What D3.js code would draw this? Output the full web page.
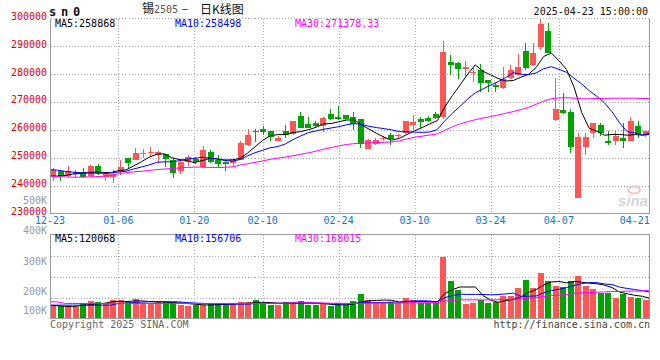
<!DOCTYPE html>
<html><head><meta charset="utf-8">
<script src="https://cdn.jsdelivr.net/npm/d3@7"></script>
<style>body{margin:0;background:#fff}</style>
</head><body>
<script>
// ---------- DATA ----------
const dates = ["12-23","12-24","12-25","12-26","12-27","12-30","12-31","01-02","01-03","01-06","01-07","01-08","01-09","01-10","01-13","01-14","01-15","01-16","01-17","01-20","01-21","01-22","01-23","01-24","01-27","02-05","02-06","02-07","02-10","02-11","02-12","02-13","02-14","02-17","02-18","02-19","02-20","02-21","02-24","02-25","02-26","02-27","02-28","03-03","03-04","03-05","03-06","03-07","03-10","03-11","03-12","03-13","03-14","03-17","03-18","03-19","03-20","03-21","03-24","03-25","03-26","03-27","03-28","03-31","04-01","04-02","04-03","04-07","04-08","04-09","04-10","04-11","04-14","04-15","04-16","04-17","04-18","04-21","04-22","04-23"];
const open = [243600,245400,243600,244200,244900,243600,247200,243400,243100,245200,250200,249200,251600,251900,251000,251400,249200,245500,248500,249600,247000,252400,249400,248500,248400,249400,254700,259900,260500,259800,256300,259600,258600,265200,262300,262500,261600,265900,264700,265500,264700,263900,253300,255000,256900,258300,258200,258900,262000,264000,264500,265800,264800,284600,284300,282000,280500,281600,278000,276200,275000,278600,280000,288400,283400,290000,295600,263600,267200,266400,235700,254100,258900,261900,256100,256100,257100,256300,261500,258300];
const high = [246400,245400,247200,245800,246600,247600,248000,245200,245800,249400,250200,253600,253300,253900,252600,251600,250000,249400,251200,250400,254500,253000,251200,249600,249600,256000,260300,260500,261400,259900,257800,262000,263400,266700,264600,263400,264600,267700,268800,265500,266700,263900,256900,257100,258000,258900,258800,263400,265400,264800,265000,266400,292000,287000,284600,284900,282200,283700,278000,276800,282800,283400,287300,291400,291400,300000,298400,278600,273200,267500,258900,258900,262700,262500,259700,259700,262500,264800,263300,260000];
const low = [241900,241900,243400,243100,242800,243100,244000,241900,241000,244000,246400,249200,250000,250600,248800,247000,243000,244300,247200,247800,246400,248200,246400,245500,247000,249200,254500,255700,258400,256100,256000,257200,258300,260700,260700,261100,259300,263700,263700,263700,260100,253500,253200,254800,256000,254700,257100,258700,260100,260700,262800,264000,264200,280000,278400,279600,277400,273600,273800,273600,274800,278400,279800,281600,283000,288800,287800,263300,265700,251900,235700,251100,257100,258000,254900,254700,253800,256000,257100,257700];
const close = [245800,243600,245400,244900,243100,247200,244800,244600,244200,247000,248400,251800,251900,252300,252400,249600,244800,248500,250400,248800,253000,248800,248000,248000,249400,255300,258300,259600,259300,257700,257400,258200,263400,261000,261000,261700,264300,264100,264100,264100,262300,255100,256500,256500,257300,256900,258400,263400,263100,263100,263400,264400,288200,283400,282000,282800,280800,276800,277100,275400,278300,281600,282800,282200,287600,298100,287800,267800,266300,254100,257700,257700,262500,259200,255300,257900,256300,263500,258500,259800];
const ma5 = [243600,243600,243800,244300,244560,244840,245080,244920,244780,245560,245800,247200,248660,250280,251360,251600,250200,249520,249140,248420,249100,249900,249800,249320,249440,249900,251800,254120,256380,258040,258460,258440,259200,259540,260200,261060,262280,262420,263040,263660,263780,261940,260420,258900,257540,256460,257120,258500,259820,260980,262280,263480,268440,272500,276280,280160,283440,281160,279900,278580,277680,277840,279040,280060,282500,286460,287700,285000,281800,275500,266400,260720,259660,258240,258480,258520,258240,258440,258300,258868];
const ma10 = [245900,245700,245300,245000,244800,244700,244600,244600,244700,245060,245320,246140,246790,247530,248460,248700,248700,249090,249710,249890,250350,250050,249660,249230,248930,249500,250850,251960,252850,253740,254180,255120,256660,257960,259120,259760,260360,260810,261290,261930,262420,262110,261420,260970,260600,260120,259530,259460,259360,259260,259370,260300,263470,266160,268630,271220,273460,274800,276200,277430,278920,280640,280100,279980,280540,282070,282770,281870,280790,278660,276600,274210,272180,269880,266650,262630,259480,259050,258270,258498];
const ma30 = [243400,243400,243300,243200,243200,243300,243400,243500,243800,244400,244800,245100,245300,245600,245900,246100,246300,246500,246700,246800,246800,246700,246700,246700,246900,247500,248000,248500,249000,249600,250000,250400,250900,251400,251900,252500,253200,253800,254400,254900,255200,255400,255500,255600,255700,255800,256200,256900,257500,257900,258300,258700,260000,261300,262300,263100,263800,264400,264900,265500,266100,266700,267400,268200,269300,270500,271300,271600,271700,271500,271300,271300,271400,271400,271500,271500,271500,271500,271400,271378.33];
// volume in thousands (K)
const volumeK = [79.5,73.6,73.6,65.6,89.5,103.5,97.5,89.5,109.5,109.5,97.5,115.4,93.5,89.5,97.5,97.5,97.5,79.5,73.6,79.5,79.5,89.5,89.5,79.5,89.5,97.5,97.5,109.5,89.5,79.5,79.5,97.5,97.5,103.5,79.5,79.5,85.5,73.6,89.5,79.5,103.5,145.3,109.5,99.5,89.5,99.5,89.5,119.4,109.5,89.5,89.5,89.5,368.6,223.1,169.3,85.5,93.5,109.5,93.5,99.5,133.4,133.4,179.2,229.1,183.2,272.9,223.1,193.2,189.2,223.1,253,193.2,175.2,149.3,149.3,119.4,143,130,119.4,109.5];
const vma5K = [78,76,73,70,76.4,81.2,85.9,89.1,97.9,101.9,100.7,104.3,105.1,101.1,98.7,98.7,95.1,92.3,89.1,85.5,81.9,80.3,82.3,83.5,85.5,89.1,90.7,94.7,96.7,94.7,91.1,91.1,88.7,91.5,91.5,91.5,89.1,84.3,81.5,81.5,86.3,98.3,105.5,107.5,109.5,108.7,97.5,99.5,101.5,101.5,99.5,99.5,149.3,172.0,188.0,187.2,188.0,136.2,110.3,96.3,105.9,113.9,127.8,154.9,171.7,199.6,217.5,220.3,212.3,220.3,216.3,210.3,206.7,198.8,184.0,157.3,147.2,138.2,132.2,120.068];
const vma10K = [79.5,79.5,79.5,79.5,79.5,79.5,79.5,79.5,79.5,89.1,90.9,95.1,97.1,99.5,100.3,99.7,99.7,98.7,95.1,92.1,90.3,87.7,87.3,86.3,85.5,85.5,85.5,88.5,90.1,90.1,90.1,90.9,91.7,94.1,93.1,91.3,90.1,86.5,86.5,86.5,88.9,93.7,94.9,94.5,95.5,97.5,97.9,102.5,104.5,105.5,104.1,98.5,124.4,136.8,144.7,143.3,143.7,142.8,141.2,142.2,146.5,150.9,132.0,132.6,134.0,152.7,165.7,174.1,183.6,196.0,207.9,213.9,213.5,205.5,202.2,186.8,178.8,172.5,165.5,156.706];
const vma30K = [99,99,89.5,89.5,89.5,89.5,89.5,89.5,89.5,89.5,89.5,89.5,89.5,89.5,89.5,89.5,89.5,89.5,89.5,89.5,89.5,89.5,89.5,89.5,89.5,89.5,89.5,89.5,89.5,90.4,90.4,91.2,92.0,93.3,93.0,92.2,91.8,91.2,90.6,89.6,89.8,90.8,91.3,91.6,91.4,91.4,91.2,92.5,93.7,94.0,94.4,94.4,103.7,108.5,111.1,110.7,110.6,110.6,110.7,111.4,113.2,114.4,117.1,121.3,124.7,131.2,135.8,139.8,143.1,147.9,152.9,154.4,156.6,158.3,160.3,161.0,162.7,163.1,164.0,168.015];
const priceTicks = [300000,290000,280000,270000,260000,250000,240000,230000];
const volTickLabels = ["500K","400K","300K","200K","100K"];
const volTickValues = [500,400,300,200,100];
const dateTickIdx = [0,9,19,28,38,48,58,67,77];
const dateGridIdx = [9,19,28,38,48,58,67];
const volGridValues = [125,250,375];
const maLabels = ["MA5:258868","MA10:258498","MA30:271378.33"];
const volMaLabels = ["MA5:120068","MA10:156706","MA30:168015"];
const titleCode = "sn0";
const titleName = ["锡","2505","–","日K线图"];
const stamp = "2025-04-23 15:00:00";

// ---------- CHART ----------
const RED = "#ff5555", GREEN = "#00a400", GRID = "#a8a8a8", BORDER = "#9a9a9a";
const MONO = "DejaVu Sans Mono, monospace";
const n = dates.length;
const svg = d3.select("body").append("svg").attr("width",660).attr("height",360)
  .style("font-family", MONO).style("display","block");

const L = 50.5, R = 649.5, T = 18.5, B = 213.5, VT = 234.5, VB = 318.5;
const xBand = d3.scaleBand().domain(d3.range(n)).range([49,649]).paddingInner(0.27).paddingOuter(0.135);
const xLin = d3.scaleLinear().domain([0, n-1]).range([50, 650]);
const y = d3.scaleLinear().domain([230000,300000]).range([214,18.7]);
const yv = d3.scaleLinear().domain([0,500]).range([VB, VT]);
const volLabelY = d3.scaleLinear().domain([100,500]).range([325.5,204]);

const grid = svg.append("g").attr("stroke", GRID).attr("stroke-dasharray","1,2").attr("shape-rendering","crispEdges");
grid.selectAll(".hp").data(priceTicks.filter(v => v > 230000)).join("line")
  .attr("x1", L).attr("x2", R)
  .attr("y1", d => Math.floor(y(d)) + 0.5).attr("y2", d => Math.floor(y(d)) + 0.5);
grid.selectAll(".vp").data(dateGridIdx).join("line")
  .attr("x1", d => Math.round(xLin(d)) + 0.5).attr("x2", d => Math.round(xLin(d)) + 0.5)
  .attr("y1", T).attr("y2", B);
grid.selectAll(".vv").data(dateGridIdx).join("line")
  .attr("x1", d => Math.round(xLin(d)) + 0.5).attr("x2", d => Math.round(xLin(d)) + 0.5)
  .attr("y1", VT).attr("y2", VB);
grid.selectAll(".hv").data(volGridValues).join("line")
  .attr("x1", L).attr("x2", R)
  .attr("y1", d => Math.round(yv(d)) + 0.5).attr("y2", d => Math.round(yv(d)) + 0.5);

// watermark
const wm = svg.append("g");
wm.append("ellipse").attr("cx", 634).attr("cy", 190).attr("rx", 6).attr("ry", 3.5)
  .attr("fill", "none").attr("stroke", "#f3c4c4").attr("stroke-width", 2);
wm.append("text").attr("x", 648).attr("y", 206).attr("text-anchor","end")
  .attr("font-family","Liberation Sans, Arial, sans-serif").attr("font-style","italic").attr("font-weight","bold")
  .attr("font-size", 15).attr("fill", "#d6d6d6").text("sina");

// candles
const idx = d3.range(n);
const isUp = i => close[i] >= open[i];
const cx = i => Math.round(xBand(i) + xBand.bandwidth()/2) + 0.5;
const cg = svg.append("g").attr("shape-rendering","crispEdges");
cg.selectAll(".wick").data(idx).join("line")
  .attr("x1", cx).attr("x2", cx)
  .attr("y1", i => y(high[i])).attr("y2", i => y(low[i]))
  .attr("stroke", i => isUp(i) ? RED : GREEN);
cg.selectAll(".body").data(idx).join("rect")
  .attr("x", i => Math.round(xBand(i)))
  .attr("width", Math.round(xBand.bandwidth()) + 0.5)
  .attr("y", i => y(Math.max(open[i], close[i])))
  .attr("height", i => Math.max(1, Math.abs(y(open[i]) - y(close[i]))))
  .attr("fill", i => isUp(i) ? RED : GREEN);

// MA lines (price)
const lineP = d3.line().x((d,i) => xLin(i)).y(d => y(d));
[[ma5,"#000000"],[ma10,"#0000ff"],[ma30,"#ff00ff"]].forEach(([arr,col]) => {
  svg.append("path").attr("d", lineP(arr)).attr("fill","none").attr("stroke", col).attr("stroke-width", 1);
});

// volume bars
cg.selectAll(".vbar").data(idx).join("rect")
  .attr("x", i => Math.round(xBand(i)))
  .attr("width", Math.round(xBand.bandwidth()) + 1)
  .attr("y", i => yv(volumeK[i]))
  .attr("height", i => VB - yv(volumeK[i]))
  .attr("fill", i => isUp(i) ? RED : GREEN);
const lineV = d3.line().x((d,i) => xLin(i)).y(d => yv(d));
[[vma5K,"#000000"],[vma10K,"#0000ff"],[vma30K,"#ff00ff"]].forEach(([arr,col]) => {
  svg.append("path").attr("d", lineV(arr)).attr("fill","none").attr("stroke", col).attr("stroke-width", 1);
});

// borders
const bd = svg.append("g").attr("stroke", BORDER).attr("fill","none").attr("shape-rendering","crispEdges");
bd.append("path").attr("d", `M${L},${T}V${B}H${R}V${T}`);
bd.append("rect").attr("x", L).attr("y", VT).attr("width", R - L).attr("height", VB - VT);

// price axis labels
svg.append("g").selectAll("text").data(priceTicks).join("text")
  .attr("x", 47).attr("y", d => y(d) + 1).attr("text-anchor","end")
  .attr("font-size", 10).attr("fill", "#e00000").text(d => d);
// volume axis labels
svg.append("g").selectAll("text").data(volTickValues).join("text")
  .attr("x", 47).attr("y", d => Math.min(volLabelY(d), 313.5)).attr("text-anchor","end")
  .attr("font-size", 10).attr("fill", "#9a9a9a").text((d,i) => volTickLabels[i]);
// date labels
svg.append("g").selectAll("text").data(dateTickIdx).join("text")
  .attr("x", d => xLin(d)).attr("y", 224.3).attr("text-anchor","middle")
  .attr("font-size", 10).attr("fill", "#0b77d4").text(d => dates[d]);

// MA legends
const maCols = ["#000000","#0000ff","#ff00ff"], maX = [55,175,295];
maLabels.forEach((t,i) => svg.append("text").attr("x", maX[i]).attr("y", 27.3).attr("font-size",10).attr("fill", maCols[i]).text(t));
volMaLabels.forEach((t,i) => svg.append("text").attr("x", maX[i]).attr("y", 241.7).attr("font-size",10).attr("fill", maCols[i]).text(t));

// header
svg.append("text").attr("x", 49).attr("y", 16).attr("font-size", 12).attr("font-weight","bold")
  .attr("letter-spacing", 4.8).attr("fill", "#111").text(titleCode);
const CJK = "Noto Sans CJK SC, sans-serif";
svg.append("text").attr("x", 142).attr("y", 13).attr("font-family", CJK).attr("font-size", 12).attr("fill","#111").text(titleName[0]);
svg.append("text").attr("x", 154).attr("y", 13).attr("font-size", 10).attr("fill","#555").text(titleName[1]);
svg.append("text").attr("x", 185).attr("y", 13).attr("text-anchor","middle").attr("font-family", CJK).attr("font-size", 12).attr("fill","#111").text(titleName[2]);
svg.append("text").attr("x", 200).attr("y", 14).attr("font-family", CJK).attr("font-size", 12).attr("fill","#111").text(titleName[3]);
svg.append("text").attr("x", 648).attr("y", 15).attr("text-anchor","end").attr("font-size", 10).attr("fill","#111").text(stamp);

// footer
svg.append("text").attr("x", 50).attr("y", 327.5).attr("font-size", 10).attr("fill","#666").text("Copyright 2025 SINA.COM");
svg.append("text").attr("x", 650).attr("y", 327.5).attr("text-anchor","end").attr("font-size", 10).attr("fill","#444").text("http://finance.sina.com.cn");
</script>
</body></html>
